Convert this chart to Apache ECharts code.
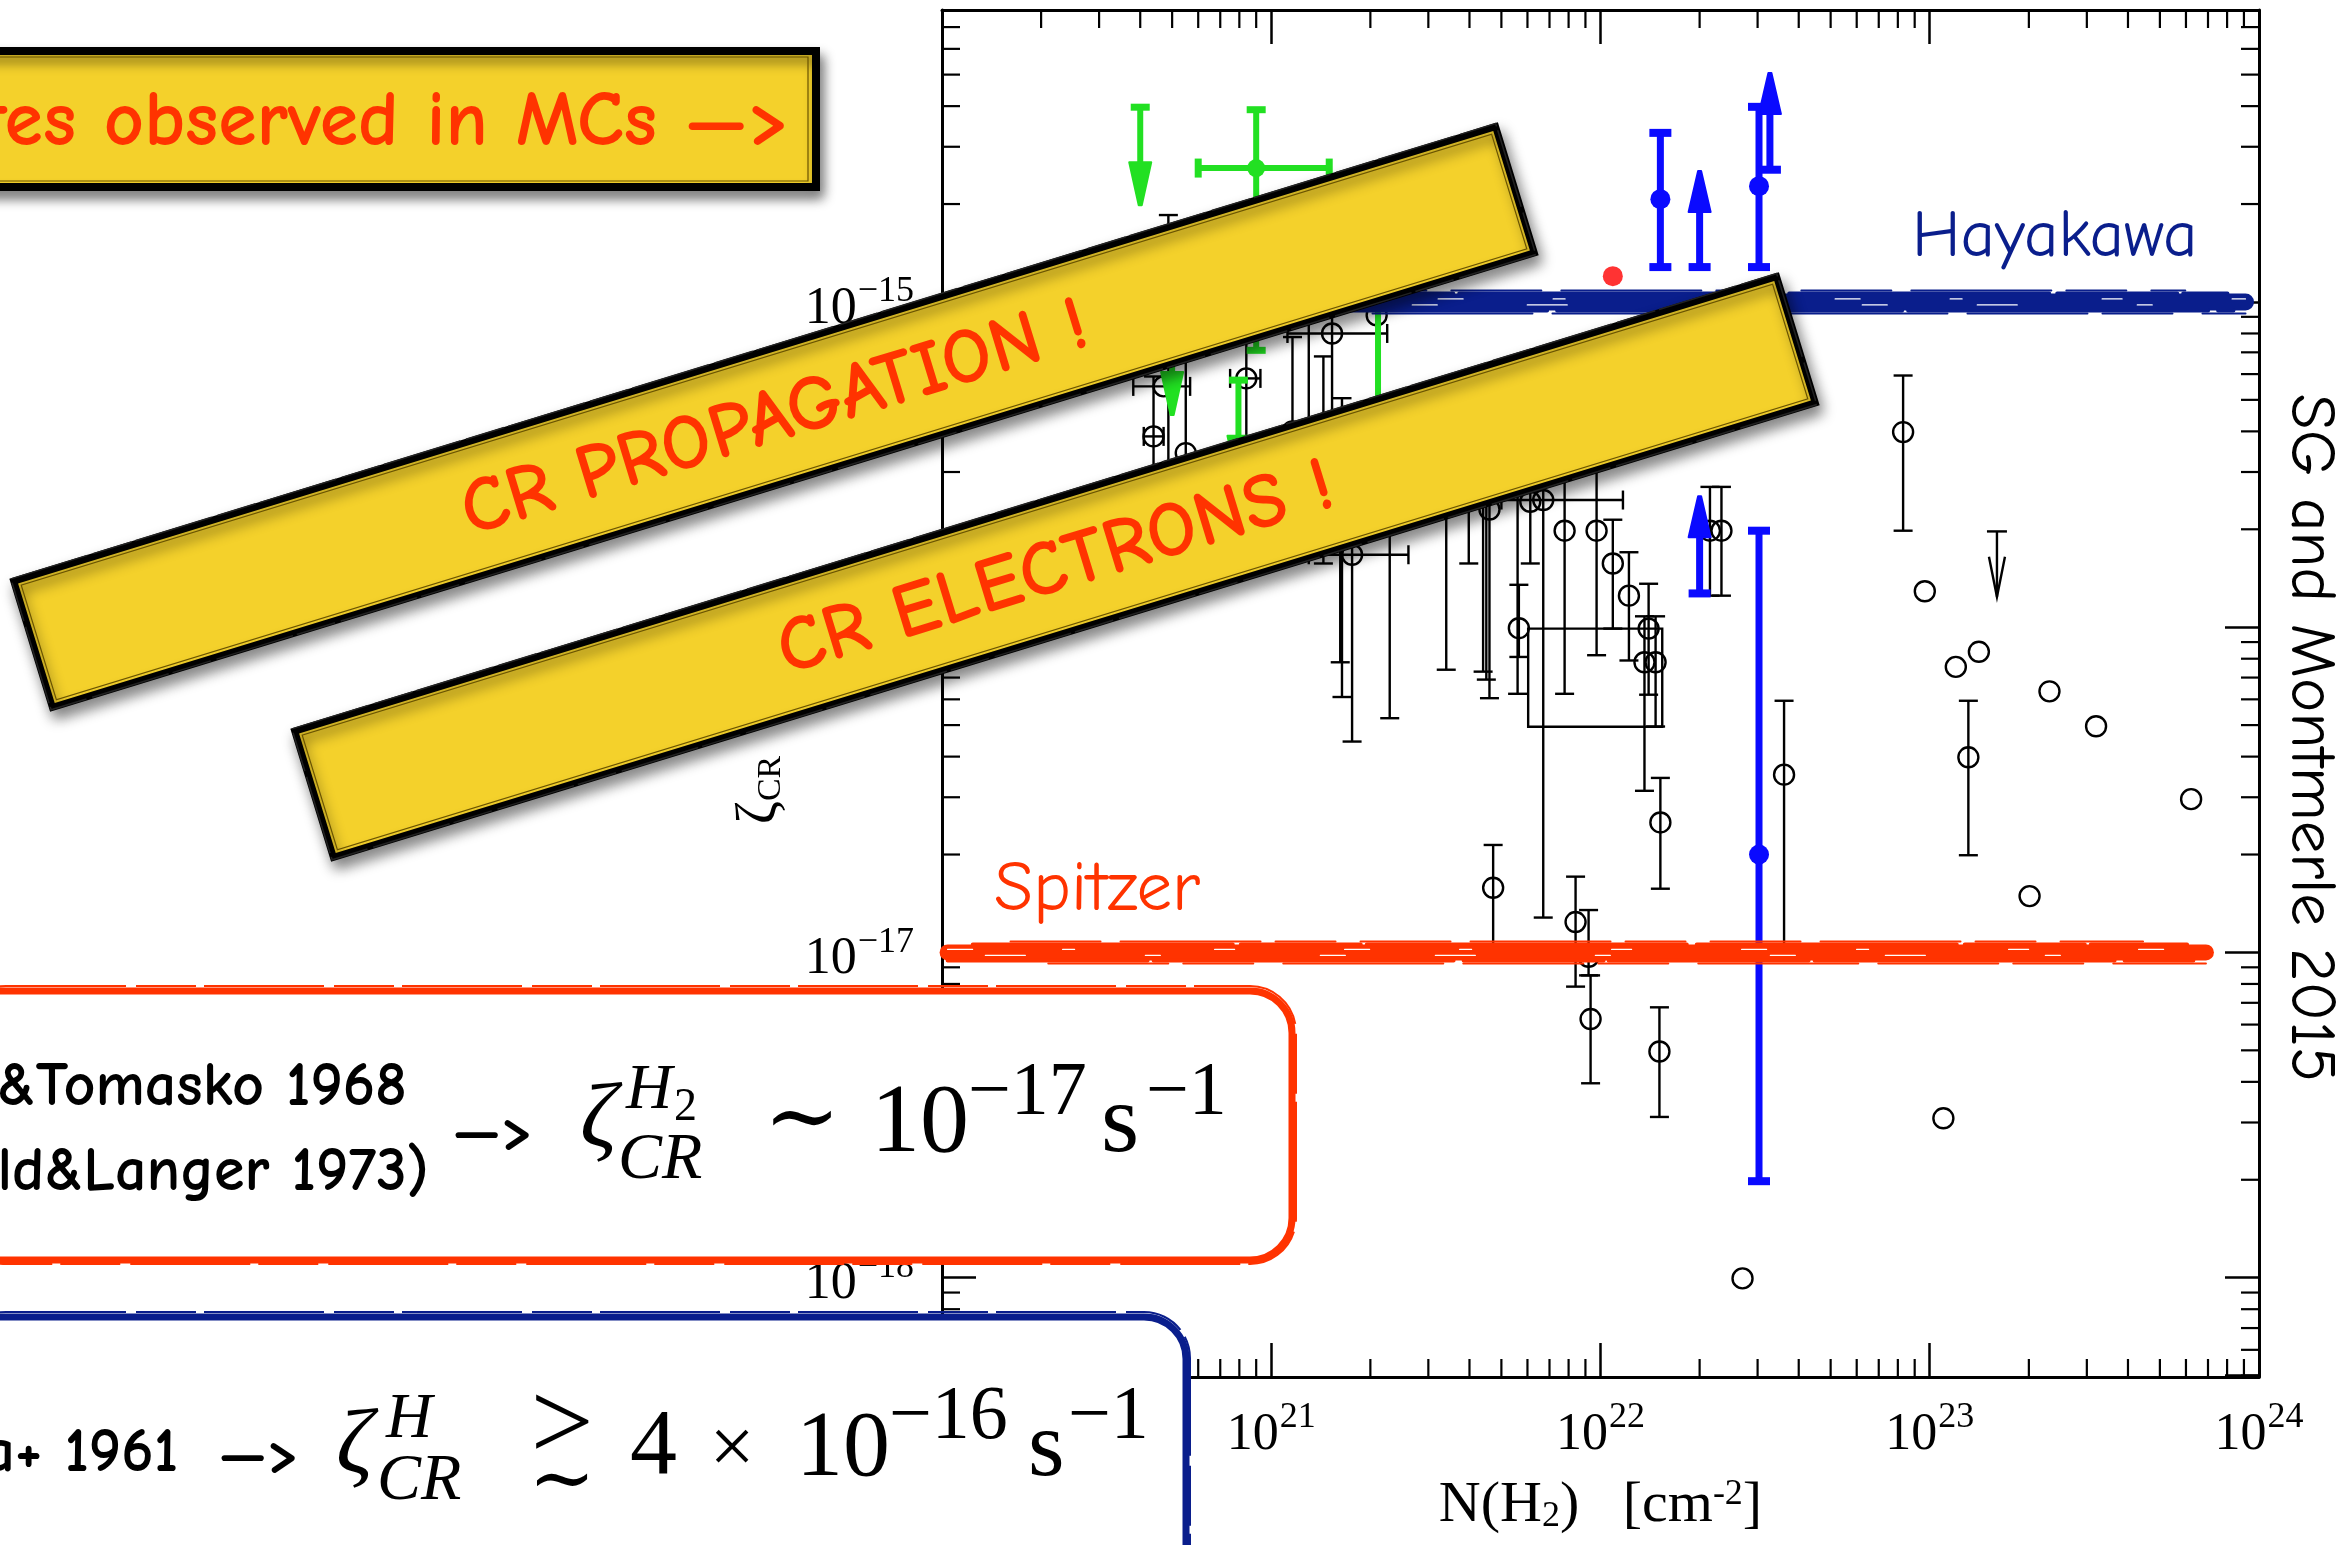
<!DOCTYPE html>
<html><head><meta charset="utf-8">
<script src="https://cdn.jsdelivr.net/npm/echarts@6/dist/echarts.min.js"></script>
<style>html,body{margin:0;padding:0;background:#fff;}#main{width:2345px;height:1545px;}</style>
</head><body><div id="main"></div>
<script>
// ---------------- axis ranges & ticks ----------------
const xRange = [1e20, 1e24];
const yRange = [4.95e-19, 7.9e-15];
const minorMultipliers = [2, 3, 4, 5, 6, 7, 8, 9];
const xDecades = [1e20, 1e21, 1e22, 1e23];
const yDecades = [1e-19, 1e-18, 1e-17, 1e-16, 1e-15];

// ---------------- data (N(H2) [cm^-2], zeta_CR [s^-1]) ----------------
// black open circles: [N, zeta, zetaLow, zetaHigh, NLow, NHigh]
const blackPoints = [
  [4.87e20, 1.0e-15, 2.5e-16, 1.85e-15, null, null],
  [4.39e20, 3.86e-16, 2.4e-16, 5.9e-16, 4.1e20, 4.71e20],
  [4.71e20, 5.5e-16, null, null, 3.81e20, 5.67e20],
  [5.5e20, 3.43e-16, 2.0e-16, 8.0e-16, null, null],
  [8.4e20, 5.82e-16, 3.2e-16, 8.5e-16, 7.5e20, 9.27e20],
  [1.16e21, 4.0e-16, 2.0e-16, 7.8e-16, null, null],
  [1.3e21, 3.5e-16, 1.8e-16, 1.2e-15, null, null],
  [1.44e21, 3.3e-16, 1.57e-16, 6.8e-16, null, null],
  [1.53e21, 8.0e-16, 3.0e-16, 9.2e-16, 1.12e21, 2.25e21],
  [1.64e21, 3.05e-16, 6.1e-17, 5.06e-16, null, null],
  [1.62e21, 3.6e-16, 7.8e-17, 4.3e-16, null, null],
  [2.09e21, 9.1e-16, null, null, null, null],
  [1.76e21, 1.67e-16, 4.45e-17, 3.0e-16, 1.3e21, 2.61e21],
  [2.29e21, 2.6e-16, 5.25e-17, 4.5e-16, null, null],
  [3.4e21, 2.4e-16, 7.4e-17, 4.0e-16, null, null],
  [3.98e21, 2.6e-16, 1.57e-16, 4.0e-16, null, null],
  [4.4e21, 2.6e-16, 7.3e-17, 4.0e-16, null, null],
  [4.6e21, 2.3e-16, 6.05e-17, 4.0e-16, null, null],
  [4.5e21, 2.8e-16, 6.9e-17, 4.0e-16, null, null],
  [5.65e21, 9.93e-17, 8.1e-17, 1.35e-16, null, null],
  [5.6e21, 3.0e-16, 6.24e-17, 5.0e-16, null, null],
  [6.12e21, 2.43e-16, 1.57e-16, 4.0e-16, null, null],
  [6.7e21, 2.46e-16, 1.28e-17, 3.2e-16, 5.0e21, 1.17e22],
  [7.78e21, 1.98e-16, 6.24e-17, 3.5e-16, null, null],
  [9.73e21, 1.98e-16, 8.2e-17, 3.5e-16, null, null],
  [1.09e22, 1.57e-16, 9.9e-17, 2.14e-16, null, null],
  [1.22e22, 1.25e-16, 7.9e-17, 1.7e-16, null, null],
  [1.40e22, 9.9e-17, 6.2e-17, 1.36e-16, null, null],
  [1.36e22, 7.8e-17, 3.14e-17, 1.08e-16, null, null],
  [1.47e22, 7.8e-17, 4.95e-17, 1.08e-16, null, null],
  [2.15e22, 1.98e-16, 1.25e-16, 2.7e-16, null, null],
  [2.33e22, 1.98e-16, 1.25e-16, 2.7e-16, null, null],
  [1.52e22, 2.51e-17, 1.57e-17, 3.44e-17, null, null],
  [3.61e22, 3.52e-17, 1.0e-17, 5.94e-17, null, null],
  [4.72e21, 1.58e-17, 1.0e-17, 2.14e-17, null, null],
  [8.4e21, 1.24e-17, 7.85e-18, 1.71e-17, null, null],
  [9.2e21, 9.7e-18, 8.5e-18, 1.35e-17, null, null],
  [9.33e21, 6.24e-18, 3.96e-18, 8.5e-18, null, null],
  [1.51e22, 4.96e-18, 3.12e-18, 6.78e-18, null, null],
  [2.7e22, 9.95e-19, null, null, null, null],
  [8.3e22, 3.98e-16, 1.98e-16, 5.94e-16, null, null],
  [9.66e22, 1.29e-16, null, null, null, null],
  [1.2e23, 7.55e-17, null, null, null, null],
  [1.41e23, 8.4e-17, null, null, null, null],
  [2.31e23, 6.35e-17, null, null, null, null],
  [3.2e23, 4.96e-17, null, null, null, null],
  [1.31e23, 3.98e-17, 1.99e-17, 5.94e-17, null, null],
  [6.22e23, 2.96e-17, null, null, null, null],
  [2.01e23, 1.49e-17, null, null, null, null],
  [1.1e23, 3.09e-18, null, null, null, null]
];
// limits: [N, zeta, arrow tip zeta]
const blackUpperLimits = [[1.6e23, 1.97e-16, 1.24e-16]];
// box: [NLow, NHigh, zetaLow, zetaHigh]
const blackBox = [[6.03e21, 1.54e22, 4.94e-17, 9.9e-17]];
const greenPoints = [
  [9.0e20, 2.58e-15, 7.1e-16, 3.9e-15, 6.0e20, 1.5e21],
  [2.11e21, 4.0e-16, 2.0e-16, 1.0e-15, null, null]
];
const greenUpperLimits = [[4.0e20, 3.97e-15, 1.94e-15], [5.0e20, 8.9e-16, 4.4e-16], [7.95e20, 5.75e-16, 2.8e-16]];
const bluePoints = [
  [1.52e22, 2.07e-15, 1.28e-15, 3.31e-15, null, null],
  [3.03e22, 2.27e-15, 1.28e-15, 3.98e-15, null, null],
  [3.03e22, 2.0e-17, 1.98e-18, 1.98e-16, null, null]
];
const blueLowerLimits = [[2.0e22, 1.28e-15, 2.58e-15], [3.27e22, 2.55e-15, 5.17e-15], [2.0e22, 1.27e-16, 2.58e-16]];
const redPoint = [[1.09e22, 1.2e-15]];
// reference levels: [N start, N end, zeta]
const hayakawaLevel = [[2e20, 9.1e23, 1e-15]];
const spitzerLevel = [[1.04e20, 6.9e23, 1e-17]];

// ---------------- styling ----------------
const SERIF = '"Liberation Serif","DejaVu Serif",serif';
const HAND = '"Comic Sans MS","Comic Neue",Lato,"Open Sans",sans-serif';
const RED = '#ff3300', NAVY = '#0a1e8c', YEL = '#f4d12b', GREEN = '#22e022', BLUE = '#0a0aff';

function minorList(decades, lo, hi) {
  const out = [];
  decades.forEach(d => minorMultipliers.forEach(m => { const v = m * d; if (v > lo && v < hi) out.push(v); }));
  return out;
}
const xMinor = minorList(xDecades, xRange[0], xRange[1]).map(v => [v, yRange[0]]);
const yMinor = minorList(yDecades, yRange[0], yRange[1]).map(v => [xRange[0], v]);

function line(x1, y1, x2, y2, color, w) {
  return {type: 'line', shape: {x1, y1, x2, y2}, style: {stroke: color, lineWidth: w, lineCap: 'butt'}};
}

function makeErr(st) {
  return function (params, api) {
    const x = api.value(0), y = api.value(1);
    const yl = api.value(2), yh = api.value(3), xl = api.value(4), xh = api.value(5);
    const c = api.coord([x, y]);
    const k = [];
    const h = st.cap / 2;
    if (yl > 0 && yh > 0) {
      const t = api.coord([x, yh])[1], b = api.coord([x, yl])[1];
      k.push(line(c[0], t, c[0], b, st.color, st.lw));
      k.push(line(c[0] - h, t, c[0] + h, t, st.color, st.capW));
      k.push(line(c[0] - h, b, c[0] + h, b, st.color, st.capW));
    }
    if (xl > 0 && xh > 0) {
      const l = api.coord([xl, y])[0], r = api.coord([xh, y])[0];
      k.push(line(l, c[1], r, c[1], st.color, st.lw));
      k.push(line(l, c[1] - h, l, c[1] + h, st.color, st.capW));
      k.push(line(r, c[1] - h, r, c[1] + h, st.color, st.capW));
    }
    if (st.marker === 'open') k.push({type: 'circle', shape: {cx: c[0], cy: c[1], r: st.r}, style: {fill: 'none', stroke: st.color, lineWidth: st.lw}});
    if (st.marker === 'dot') k.push({type: 'circle', shape: {cx: c[0], cy: c[1], r: st.r}, style: {fill: st.color}});
    return {type: 'group', children: k};
  };
}

function makeLimit(st) {
  return function (params, api) {
    const x = api.value(0);
    const a = api.coord([x, api.value(1)]), b = api.coord([x, api.value(2)]);
    const dir = b[1] > a[1] ? 1 : -1;
    const h = st.cap / 2, hw = st.headW / 2;
    const k = [line(a[0] - h, a[1], a[0] + h, a[1], st.color, st.capW)];
    if (st.open) {
      k.push(line(a[0], a[1], b[0], b[1], st.color, st.lw));
      k.push({type: 'polyline', shape: {points: [[b[0] - hw, b[1] - dir * st.headLen], [b[0], b[1]], [b[0] + hw, b[1] - dir * st.headLen]]}, style: {stroke: st.color, lineWidth: st.lw, fill: 'none'}});
    } else {
      k.push(line(a[0], a[1], b[0], b[1] - dir * st.headLen * 0.7, st.color, st.lw));
      k.push({type: 'polygon', shape: {points: [[b[0] - hw, b[1] - dir * st.headLen], [b[0] + hw, b[1] - dir * st.headLen], [b[0] + 1.5, b[1] - dir * 3], [b[0] - 1.5, b[1] - dir * 3]]}, style: {fill: st.color, stroke: st.color, lineWidth: 2, lineJoin: 'round'}});
    }
    return {type: 'group', children: k};
  };
}

function brushRender(color, core) {
  return function (params, api) {
    const y = api.value(2);
    const a = api.coord([api.value(0), y]), b = api.coord([api.value(1), y]);
    const L = b[0] - a[0];
    const strokes = [
      [0, core, 0, 1, null, color],
      [-core / 2, 4, 0.02, 0.985, [260, 8, 120, 6, 320, 10], color],
      [core / 2, 4, 0.0, 0.99, [200, 6, 300, 10, 140, 5], color],
      [-core / 2 - 3, 2, 0.05, 0.95, [90, 20, 140, 15, 60, 25], color],
      [core / 2 + 3, 2, 0.08, 1.0, [120, 15, 70, 30, 160, 20], color],
      [-3, 1.2, 0.0, 1.0, [25, 90, 12, 140, 20, 110], '#ffffff'],
      [3, 1.2, 0.03, 1.0, [40, 120, 15, 160, 25, 90], '#ffffff']
    ];
    return {type: 'group', children: strokes.map(s => ({
      type: 'line',
      shape: {x1: a[0] + L * s[2], y1: a[1] + s[0], x2: a[0] + L * s[3], y2: a[1] + s[0]},
      style: {stroke: s[5], lineWidth: s[1], lineDash: s[4] || null, lineCap: 'round'}
    }))};
  };
}

function minorTickRender(axis) {
  return function (params, api) {
    const cs = params.coordSys, len = 18, w = 2.2;
    if (axis === 'x') {
      const px = api.coord([api.value(0), yRange[0]])[0];
      return {type: 'group', children: [line(px, cs.y + cs.height, px, cs.y + cs.height - len, '#000', w), line(px, cs.y, px, cs.y + len, '#000', w)]};
    }
    const py = api.coord([xRange[0], api.value(1)])[1];
    return {type: 'group', children: [line(cs.x, py, cs.x + len, py, '#000', w), line(cs.x + cs.width - len, py, cs.x + cs.width, py, '#000', w)]};
  };
}

function boxRender(params, api) {
  const p1 = api.coord([api.value(0), api.value(3)]), p2 = api.coord([api.value(1), api.value(2)]);
  return {type: 'rect', shape: {x: p1[0], y: p1[1], width: p2[0] - p1[0], height: p2[1] - p1[1]}, style: {fill: 'none', stroke: '#000', lineWidth: 2.4}};
}

function powLabel(v) {
  const l = Math.log10(v), e = Math.round(l);
  if (Math.abs(l - e) > 1e-6) return '';
  return '{b|10}{e|' + (e < 0 ? '\u2212' + (-e) : e) + '}';
}
const labelRich = {
  b: {fontSize: 52, fontFamily: SERIF, color: '#000', padding: [14, 0, 0, 0]},
  e: {fontSize: 36, fontFamily: SERIF, color: '#000', verticalAlign: 'top', padding: [5, 0, 0, 1]}
};

function logAxis(extra) {
  return Object.assign({
    type: 'log', logBase: 10,
    axisLine: {show: true, onZero: false, lineStyle: {color: '#000', width: 3}},
    axisTick: {show: true, inside: true, length: 34, lineStyle: {color: '#000', width: 2.5}},
    splitLine: {show: false},
    minorTick: {show: false}
  }, extra);
}

// ---------------- overlays ----------------
function txt(text, x, y, font, fill, align, z, rot) {
  return {type: 'text', z: z || 40, x, y, rotation: rot || 0, silent: true,
    style: {text, font, fill: fill || '#000', align: align || 'left', verticalAlign: 'middle'}};
}
function banner(cx, cy, text) {
  const w = 1550, h = 132, rot = 17.05 * Math.PI / 180;
  return {type: 'group', x: cx, y: cy, rotation: rot, z: 30, children: [
    {type: 'rect', z: 30, shape: {x: -w / 2, y: -h / 2, width: w, height: h}, style: {fill: YEL, stroke: '#000', lineWidth: 7, shadowBlur: 14, shadowOffsetX: 4, shadowOffsetY: 8, shadowColor: 'rgba(0,0,0,0.45)'}},
    {type: 'rect', z: 31, shape: {x: -w / 2 + 6, y: -h / 2 + 6, width: w - 12, height: h - 12}, style: {fill: 'none', stroke: '#6a5400', lineWidth: 1.2}},
    {type: 'rect', z: 31, shape: {x: -w / 2 - 2, y: -h / 2 - 3, width: w + 3, height: h + 5}, style: {fill: 'none', stroke: '#222', lineWidth: 1.5, lineDash: [80, 6, 40, 4]}},
    {type: 'text', z: 32, style: {text, x: 0, y: 2, align: 'center', verticalAlign: 'middle', font: 'bold 78px ' + HAND, fill: RED}}
  ]};
}

const graphics = [
  // top banner
  {type: 'rect', z: 30, shape: {x: -30, y: 51, width: 846, height: 136}, style: {fill: YEL, stroke: '#000', lineWidth: 8, shadowBlur: 12, shadowOffsetX: 4, shadowOffsetY: 8, shadowColor: 'rgba(0,0,0,0.45)'}},
  {type: 'rect', z: 31, shape: {x: -30, y: 57, width: 838, height: 124}, style: {fill: 'none', stroke: '#6a5400', lineWidth: 1.2}},
  txt('CR ionization rates observed in MCs \u2014>', 790, 123, 'bold 78px ' + HAND, RED, 'right', 32),
  banner(774, 417, 'CR PROPAGATION !'),
  banner(1055, 567, 'CR ELECTRONS !'),
  // red box
  {type: 'rect', z: 20, shape: {x: -40, y: 991, width: 1332, height: 269, r: 42}, style: {fill: '#fff', stroke: RED, lineWidth: 7}},
  {type: 'rect', z: 21, shape: {x: -40, y: 986, width: 1336, height: 278, r: 46}, style: {fill: 'none', stroke: RED, lineWidth: 2, lineDash: [120, 10, 60, 8]}},
  txt('Spitzer&Tomasko 1968', 407, 1087, 'bold 62px ' + HAND, '#000', 'right', 22),
  txt('Glassgold&Langer 1973)', 429, 1172, 'bold 62px ' + HAND, '#000', 'right', 22),
  txt('\u2014>', 493, 1133, 'bold 60px ' + HAND, '#000', 'center', 22),
  txt('\u03b6', 580, 1122, 'italic 92px ' + SERIF, '#000', 'left', 22),
  txt('H', 626, 1091, 'italic 64px ' + SERIF, '#000', 'left', 22),
  txt('2', 674, 1108, '46px ' + SERIF, '#000', 'left', 22),
  txt('CR', 618, 1161, 'italic 66px ' + SERIF, '#000', 'left', 22),
  txt('\u223c', 802, 1123, '92px ' + SERIF, '#000', 'center', 22),
  txt('10', 871, 1125, '98px ' + SERIF, '#000', 'left', 22),
  txt('\u221217', 968, 1094, '76px ' + SERIF, '#000', 'left', 22),
  txt('s', 1101, 1125, '98px ' + SERIF, '#000', 'left', 22),
  txt('\u22121', 1146, 1094, '76px ' + SERIF, '#000', 'left', 22),
  // blue box
  {type: 'rect', z: 20, shape: {x: -40, y: 1317, width: 1226, height: 320, r: 42}, style: {fill: '#fff', stroke: NAVY, lineWidth: 7}},
  {type: 'rect', z: 21, shape: {x: -40, y: 1312, width: 1230, height: 330, r: 46}, style: {fill: 'none', stroke: NAVY, lineWidth: 2, lineDash: [120, 10, 60, 8]}},
  txt('Hayakawa+ 1961', 178, 1453, 'bold 62px ' + HAND, '#000', 'right', 22),
  txt('\u2014>', 259, 1456, 'bold 60px ' + HAND, '#000', 'center', 22),
  txt('\u03b6', 336, 1448, 'italic 92px ' + SERIF, '#000', 'left', 22),
  txt('H', 386, 1420, 'italic 64px ' + SERIF, '#000', 'left', 22),
  txt('CR', 377, 1482, 'italic 66px ' + SERIF, '#000', 'left', 22),
  txt('>', 562, 1430, '112px ' + SERIF, '#000', 'center', 22),
  txt('\u223c', 562, 1484, '80px ' + SERIF, '#000', 'center', 22),
  txt('4', 630, 1448, '94px ' + SERIF, '#000', 'left', 22),
  txt('\u00d7', 732, 1452, '80px ' + SERIF, '#000', 'center', 22),
  txt('10', 796, 1450, '94px ' + SERIF, '#000', 'left', 22),
  txt('\u221216', 889, 1418, '76px ' + SERIF, '#000', 'left', 22),
  txt('s', 1028, 1450, '94px ' + SERIF, '#000', 'left', 22),
  txt('\u22121', 1068, 1418, '76px ' + SERIF, '#000', 'left', 22),
  // labels
  txt('Hayakawa', 1912, 237, '67px ' + HAND, NAVY, 'left', 40),
  txt('Spitzer', 994, 890, '71px ' + HAND, RED, 'left', 40),
  txt('SG and Montmerle 2015', 2310, 738, '65px ' + HAND, '#000', 'center', 40, -Math.PI / 2),
  {type: 'text', z: 40, x: 760, y: 790, rotation: Math.PI / 2, silent: true,
    style: {text: '{z|\u03b6}{c|CR}', align: 'center', verticalAlign: 'middle',
      rich: {z: {fontSize: 56, fontFamily: SERIF, color: '#000'}, c: {fontSize: 34, fontFamily: SERIF, color: '#000', verticalAlign: 'bottom'}}}}
];

// ---------------- chart ----------------
const chart = echarts.init(document.getElementById('main'), null, {renderer: 'canvas', width: 2345, height: 1545});
chart.setOption({
  animation: false,
  backgroundColor: '#fff',
  grid: {left: 942, right: 86, top: 10, bottom: 168, containLabel: false, outerBoundsMode: 'none'},
  xAxis: [
    logAxis({position: 'bottom', min: xRange[0], max: xRange[1],
      axisLabel: {show: true, margin: 18, formatter: powLabel, rich: labelRich, showMinLabel: false},
      name: '{a|N(H}{s|2}{a|)   [cm}{p|-2}{a|]}', nameLocation: 'middle', nameGap: 100,
      nameTextStyle: {rich: {
        a: {fontSize: 58, fontFamily: SERIF, color: '#000'},
        s: {fontSize: 36, fontFamily: SERIF, color: '#000', verticalAlign: 'bottom', padding: [14, 0, 0, 0]},
        p: {fontSize: 36, fontFamily: SERIF, color: '#000', verticalAlign: 'top', padding: [0, 0, 12, 0]}}}}),
    logAxis({position: 'top', min: xRange[0], max: xRange[1], axisLabel: {show: false}})
  ],
  yAxis: [
    logAxis({position: 'left', min: yRange[0], max: yRange[1],
      axisLabel: {show: true, margin: 28, formatter: powLabel, rich: labelRich, showMinLabel: false, showMaxLabel: false}}),
    logAxis({position: 'right', min: yRange[0], max: yRange[1], axisLabel: {show: false}})
  ],
  graphic: {elements: graphics},
  series: [
    {type: 'custom', name: 'xMinor', silent: true, z: 3, data: xMinor, encode: {x: 0, y: 1}, renderItem: minorTickRender('x')},
    {type: 'custom', name: 'yMinor', silent: true, z: 3, data: yMinor, encode: {x: 0, y: 1}, renderItem: minorTickRender('y')},
    {type: 'custom', name: 'box', silent: true, z: 4, data: blackBox, encode: {x: [0, 1], y: [2, 3]}, renderItem: boxRender},
    {type: 'custom', name: 'black', silent: true, z: 4, data: blackPoints, encode: {x: 0, y: 1},
      renderItem: makeErr({color: '#000', lw: 2.4, capW: 2.4, cap: 19, r: 10, marker: 'open'})},
    {type: 'custom', name: 'blackUL', silent: true, z: 4, data: blackUpperLimits, encode: {x: 0, y: [1, 2]},
      renderItem: makeLimit({color: '#000', lw: 2.4, capW: 2.4, cap: 20, headLen: 40, headW: 16, open: true})},
    {type: 'custom', name: 'green', silent: true, z: 5, data: greenPoints, encode: {x: 0, y: 1},
      renderItem: makeErr({color: GREEN, lw: 6, capW: 7, cap: 19, r: 9, marker: 'dot'})},
    {type: 'custom', name: 'greenUL', silent: true, z: 5, data: greenUpperLimits, encode: {x: 0, y: [1, 2]},
      renderItem: makeLimit({color: GREEN, lw: 6, capW: 7, cap: 19, headLen: 46, headW: 22})},
    {type: 'custom', name: 'blue', silent: true, z: 5, data: bluePoints, encode: {x: 0, y: 1},
      renderItem: makeErr({color: BLUE, lw: 7, capW: 8, cap: 22, r: 10, marker: 'dot'})},
    {type: 'custom', name: 'blueLL', silent: true, z: 5, data: blueLowerLimits, encode: {x: 0, y: [1, 2]},
      renderItem: makeLimit({color: BLUE, lw: 7, capW: 8, cap: 22, headLen: 44, headW: 22})},
    {type: 'scatter', name: 'red', silent: true, z: 5, data: redPoint, symbol: 'circle', symbolSize: 20, itemStyle: {color: '#ff0000'}},
    {type: 'custom', name: 'Hayakawa', silent: true, z: 7, data: hayakawaLevel, encode: {x: [0, 1], y: 2}, renderItem: brushRender(NAVY, 17)},
    {type: 'custom', name: 'Spitzer', silent: true, z: 7, data: spitzerLevel, encode: {x: [0, 1], y: 2}, renderItem: brushRender(RED, 16)}
  ]
});
</script></body></html>
